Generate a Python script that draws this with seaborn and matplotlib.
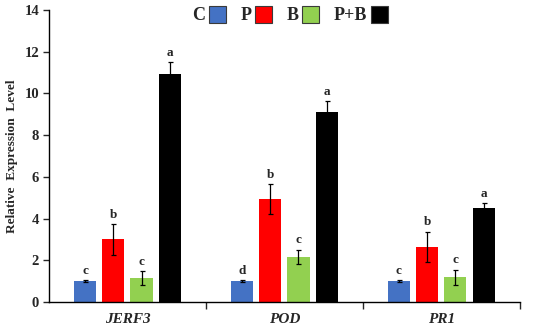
import matplotlib
matplotlib.use("Agg")
import matplotlib.pyplot as plt
import seaborn as sns
import pandas as pd
from matplotlib.patches import Patch

genes = ["JERF3", "POD", "PR1"]
treatments = ["C", "P", "B", "P+B"]
colors = ["#4472C4", "#FF0000", "#92D050", "#000000"]

c_vals = [1.0, 1.0, 1.0]
p_vals = [3.0, 4.95, 2.65]
b_vals = [1.15, 2.17, 1.18]
pb_vals = [10.92, 9.12, 4.49]

c_err = [0.05, 0.05, 0.05]
p_err = [0.72, 0.72, 0.73]
b_err = [0.35, 0.35, 0.38]
pb_err = [0.57, 0.52, 0.24]

c_let = ["c", "d", "c"]
p_let = ["b", "b", "b"]
b_let = ["c", "c", "c"]
pb_let = ["a", "a", "a"]

vals = [c_vals, p_vals, b_vals, pb_vals]
errs = [c_err, p_err, b_err, pb_err]
lets = [c_let, p_let, b_let, pb_let]

rows = []
for t, v, e, l in zip(treatments, vals, errs, lets):
    for g, vi, ei, li in zip(genes, v, e, l):
        rows.append(dict(gene=g, treat=t, value=vi, err=ei, letter=li))
df = pd.DataFrame(rows)

sns.set_style("white")
plt.rcParams["font.family"] = ["Liberation Serif", "DejaVu Serif"]

fig = plt.figure(figsize=(5.5, 3.28), dpi=100)
ax = fig.add_axes([0.089, 0.079, 0.856, 0.8905])

sns.barplot(data=df, x="gene", y="value", hue="treat", order=genes,
            hue_order=treatments, palette=colors, width=0.72, gap=0.217,
            errorbar=None, legend=False, ax=ax, saturation=1, linewidth=0)

# Map patches to data by position
patches = [p for p in ax.patches if p.get_width() > 0]
patches = sorted(patches, key=lambda p: p.get_x())
order = []
for gi, g in enumerate(genes):
    for t in treatments:
        order.append((g, t))
for p, (g, t) in zip(patches, order):
    r = df[(df.gene == g) & (df.treat == t)].iloc[0]
    xc = p.get_x() + p.get_width() / 2
    h = p.get_height()
    ax.errorbar(xc, h, yerr=r.err, color="black", lw=0.9, capsize=1.8,
                capthick=0.9, fmt="none")
    ax.text(xc, h + r.err + 0.15, r.letter, ha="center", va="bottom",
            fontsize=9.5, fontweight="bold")

ax.set_xlim(-0.5, 2.5)
ax.set_ylim(0, 14)
ax.set_yticks(range(0, 15, 2))
ax.set_yticklabels([str(v) for v in range(0, 15, 2)], fontsize=10.5, fontweight="bold")
ax.set_xticks(range(len(genes)))
ax.set_xticklabels(genes, fontsize=11, fontweight="bold", style="italic")
ax.set_xticks([0.5, 1.5, 2.5], minor=True)
ax.tick_params(axis="x", which="major", length=0, pad=8)
ax.tick_params(axis="x", which="minor", length=5, direction="out", width=1, bottom=True)
ax.tick_params(axis="y", length=4, direction="out", width=1, left=True, pad=3)
ax.set_xlabel("")
ax.set_ylabel("Relative  Expression  Level", fontsize=9.5, fontweight="bold", labelpad=5)
for s in ["top", "right"]:
    ax.spines[s].set_visible(False)
for s in ["left", "bottom"]:
    ax.spines[s].set_color("black")
    ax.spines[s].set_linewidth(1)

handles = [Patch(facecolor=c, edgecolor="#3a3a3a", linewidth=0.8) for c in colors]
ax.legend(handles, treatments, loc="upper center", bbox_to_anchor=(0.512, 1.07),
          ncol=4, frameon=False, markerfirst=False, handlelength=0.95,
          handleheight=1.05, handletextpad=0.2, columnspacing=0.8,
          prop=dict(family="Liberation Serif", weight="bold", size=13))

fig.savefig("out.png", dpi=100)
